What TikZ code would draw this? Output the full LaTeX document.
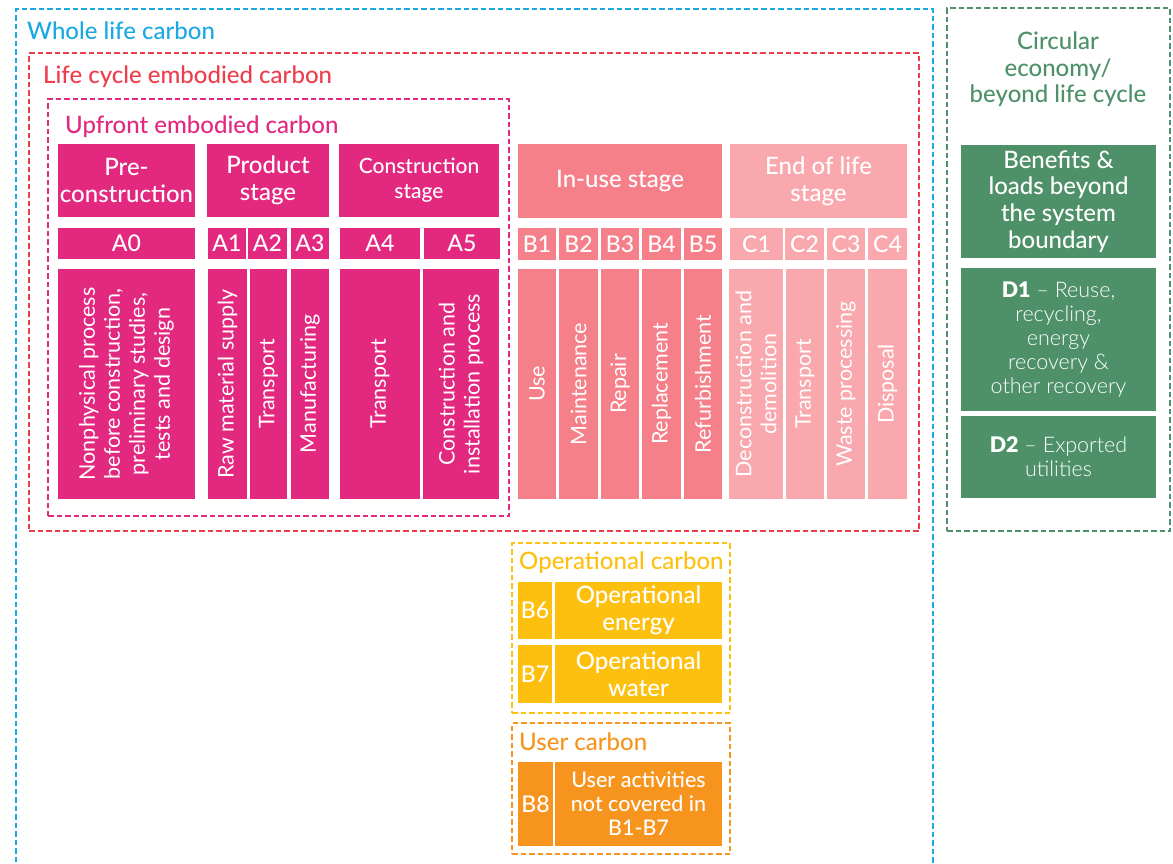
\documentclass[tikz,border=0pt]{standalone}
\usepackage{fontspec}
\usepackage{graphicx}
\setmainfont{Lato}
\newfontfamily\medfont{Lato Medium}
\newfontfamily\bookfont{Lato}
\newfontfamily\litefont{Lato Light}

\definecolor{blueC}{HTML}{1BA9E1}
\definecolor{redC}{HTML}{EE3E4D}
\definecolor{magC}{HTML}{E2297F}
\definecolor{pinkC}{HTML}{F6808A}
\definecolor{lpinkC}{HTML}{F9A8AE}
\definecolor{greenC}{HTML}{4E9169}
\definecolor{yellowC}{HTML}{FEC00F}
\definecolor{orangeC}{HTML}{F7941E}

\tikzset{
  cell/.style={rectangle,inner sep=0pt,outer sep=0pt,text=white,align=center},
  frame/.style={rectangle,inner sep=0pt,outer sep=0pt,line width=2.2pt,dash pattern=on 5.5pt off 3pt},
  title/.style={anchor=base west,inner sep=0pt,font=\medfont\fontsize{24}{28}\selectfont},
  head/.style={font=\medfont\fontsize{24}{27}\selectfont},
  code/.style={font=\medfont\fontsize{23}{26}\selectfont},
  vtext/.style={rotate=90,inner sep=0pt,text=white,align=center,font=\bookfont\fontsize{21.5}{25}\selectfont},
  big/.style={font=\medfont\fontsize{24}{26.5}\selectfont},
  small/.style={font=\litefont\fontsize{21.5}{24}\selectfont},
}

% filled cell: name, x1, y1, x2, y2, style, text
\newcommand\cellat[7]{\node[cell,minimum width={#4-#2},minimum height={#5-#3},#6] (#1) at ({(#2+#4)/2},{(#3+#5)/2}) {#7};}
% dashed frame: name, x1, y1, x2, y2, colour
\newcommand\frameat[6]{\node[frame,draw=#6,minimum width={#4-#2},minimum height={#5-#3}] (#1) at ({(#2+#4)/2},{(#3+#5)/2}) {};}
% tall cell with rotated text: name, x1, x2, fill, text
\newcommand\vcell[5]{\cellat{#1}{#2}{269}{#3}{499}{fill=#4}{}\node[vtext] (#1t) at (#1.center) {#5};}

\begin{document}
\begin{tikzpicture}[x=1pt,y=-1pt]
\useasboundingbox[fill=white] (0,0) rectangle (1173,863);

% nested scopes
\frameat{whole}{16}{9}{933}{872}{blueC}
\node[title,text=blueC] (wholet) at (27,39) {Whole life carbon};
\frameat{lifec}{29}{53}{919}{531}{redC}
\node[title,text=redC] (lifect) at (43,83) {Life cycle embodied carbon};
\frameat{upfront}{48}{99}{509}{516}{magC}
\node[title,text=magC] (upfrontt) at (65,133) {Upfront embodied carbon};

% stage headers
\cellat{pre}{58}{144}{195}{217}{fill=magC,head}{Pre-\\construction}
\cellat{prod}{207}{144}{329}{217}{fill=magC,head}{Product\\stage}
\cellat{cons}{339}{144}{499}{217}{fill=magC,font=\medfont\fontsize{21}{25}\selectfont}{Construction\\stage}
\cellat{inuse}{518}{144}{722}{218}{fill=pinkC,head}{In-use stage}
\cellat{eol}{730}{144}{907}{218}{fill=lpinkC,head}{End of life\\stage}

% module codes
\cellat{a0}{58}{228}{195}{259}{fill=magC,code}{A0}
\cellat{a1}{208}{228}{246}{259}{fill=magC,code}{A1}
\cellat{a2}{248}{228}{287}{259}{fill=magC,code}{A2}
\cellat{a3}{291}{228}{329}{259}{fill=magC,code}{A3}
\cellat{a4}{340}{228}{420}{259}{fill=magC,code}{A4}
\cellat{a5}{424}{228}{500}{259}{fill=magC,code}{A5}
\cellat{b1}{518}{228}{556}{260}{fill=pinkC,code}{B1}
\cellat{b2}{559}{228}{598}{260}{fill=pinkC,code}{B2}
\cellat{b3}{601}{228}{639}{260}{fill=pinkC,code}{B3}
\cellat{b4}{642}{228}{681}{260}{fill=pinkC,code}{B4}
\cellat{b5}{684}{228}{722}{260}{fill=pinkC,code}{B5}
\cellat{c1}{730}{228}{783}{260}{fill=lpinkC,code}{C1}
\cellat{c2}{785}{228}{824}{260}{fill=lpinkC,code}{C2}
\cellat{c3}{827}{228}{865}{260}{fill=lpinkC,code}{C3}
\cellat{c4}{868}{228}{907}{260}{fill=lpinkC,code}{C4}

% module descriptions
\vcell{a0d}{58}{195}{magC}{Nonphysical process\\before construction,\\preliminary studies,\\tests and design}
\vcell{a1d}{208}{247}{magC}{Raw material supply}
\vcell{a2d}{250}{287}{magC}{Transport}
\vcell{a3d}{291}{329}{magC}{Manufacturing}
\vcell{a4d}{340}{420}{magC}{Transport}
\vcell{a5d}{423}{499}{magC}{Construction and\\installation process}
\vcell{b1d}{518}{556}{pinkC}{Use}
\vcell{b2d}{559}{598}{pinkC}{Maintenance}
\vcell{b3d}{601}{639}{pinkC}{Repair}
\vcell{b4d}{642}{681}{pinkC}{Replacement}
\vcell{b5d}{684}{722}{pinkC}{Refurbishment}
\vcell{c1d}{729}{783}{lpinkC}{Deconstruction and\\demolition}
\vcell{c2d}{786}{824}{lpinkC}{Transport}
\vcell{c3d}{827}{865}{lpinkC}{Waste processing}
\vcell{c4d}{868}{907}{lpinkC}{Disposal}

% beyond the life cycle
\frameat{circ}{947}{8}{1170}{531}{greenC}
\node[inner sep=0pt,align=center,text=greenC,big,anchor=north] (circt) at (1058,32) {Circular\\economy/\\beyond life cycle};
\cellat{ben}{961}{145}{1156}{258}{fill=greenC,font=\medfont\fontsize{24}{26.7}\selectfont}{Benefits \&\\loads beyond\\the system\\boundary}
\cellat{d1}{961}{268}{1156}{411}{fill=greenC,small}{{\medfont\bfseries D1} – Reuse,\\recycling,\\energy\\recovery \&\\other recovery}
\cellat{d2}{961}{416}{1156}{498}{fill=greenC,small}{{\medfont\bfseries D2} – Exported\\utilities}

% operational carbon
\frameat{oper}{512}{543}{730}{713}{yellowC}
\node[title,text=yellowC] (opert) at (519,569) {Operational carbon};
\cellat{b6}{518}{582}{552}{639}{fill=yellowC,code}{B6}
\cellat{b6d}{555}{582}{722}{639}{fill=yellowC,big}{Operational\\energy}
\cellat{b7}{518}{645}{552}{703}{fill=yellowC,code}{B7}
\cellat{b7d}{555}{645}{722}{703}{fill=yellowC,big}{Operational\\water}

% user carbon
\frameat{user}{512}{723}{730}{854}{orangeC}
\node[title,text=orangeC] (usert) at (519,750) {User carbon};
\cellat{b8}{518}{762}{553}{846}{fill=orangeC,code}{B8}
\cellat{b8d}{555}{762}{722}{846}{fill=orangeC,font=\medfont\fontsize{21.5}{24}\selectfont}{User activities\\not covered in\\B1-B7}
\end{tikzpicture}
\end{document}
